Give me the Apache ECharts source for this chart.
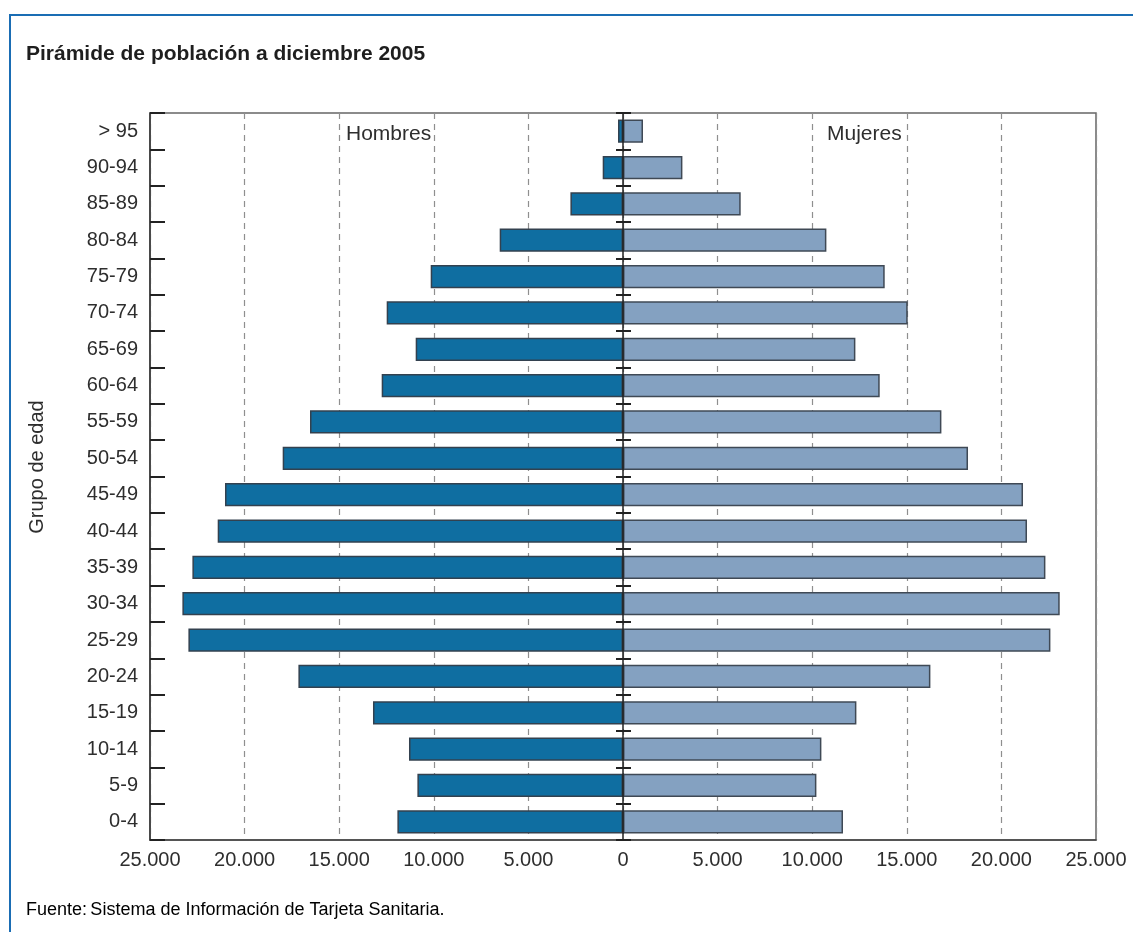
<!DOCTYPE html>
<html>
<head>
<meta charset="utf-8">
<title>Pirámide de población a diciembre 2005</title>
<script src="https://cdn.jsdelivr.net/npm/echarts@6/dist/echarts.min.js"></script>
<style>
  html, body { margin: 0; padding: 0; background: #fff; }
  #main { width: 1133px; height: 932px; }
</style>
</head>
<body>
<div id="main"></div>
<script>
// grupos de edad, de abajo hacia arriba
var gruposEdad = ['0-4', '5-9', '10-14', '15-19', '20-24', '25-29', '30-34', '35-39', '40-44', '45-49',
  '50-54', '55-59', '60-64', '65-69', '70-74', '75-79', '80-84', '85-89', '90-94', '> 95'];
var hombres = [11924, 10867, 11311, 13214, 17156, 22970, 23288, 22759, 21422, 21036,
  17987, 16543, 12754, 10957, 12490, 10164, 6517, 2780, 1073, 264];
var mujeres = [11628, 10222, 10486, 12336, 16247, 22590, 23082, 22326, 21353, 21142,
  18235, 16829, 13568, 12283, 15048, 13832, 10750, 6221, 3140, 1057];
var ejeMin = -25000;
var ejeMax = 25000;
var ejePaso = 5000;

var fuente = '"Liberation Sans", Arial, Helvetica, sans-serif';
var textoColor = '#2e2e2e';
var gridLeft = 150, gridRight = 37;

function formatoMiles(v) {
  var n = Math.abs(v);
  return String(n).replace(/\B(?=(\d{3})+(?!\d))/g, '.');
}

var myChart = echarts.init(document.getElementById('main'));
// distancia del borde izquierdo al 0 del eje
var anchoGrid = 1133 - gridLeft - gridRight;
var offsetCentro = -anchoGrid * (0 - ejeMin) / (ejeMax - ejeMin);

var option = {
  animation: false,
  backgroundColor: '#fff',
  textStyle: { fontFamily: fuente },
  grid: {
    left: gridLeft, right: gridRight, top: 113, bottom: 92,
    show: true,
    borderColor: '#666',
    borderWidth: 1.5
  },
  xAxis: {
    type: 'value',
    min: ejeMin,
    max: ejeMax,
    interval: ejePaso,
    axisLine: { show: true, onZero: false, lineStyle: { color: '#444', width: 1.5 } },
    axisTick: { show: false },
    axisLabel: {
      formatter: formatoMiles,
      fontSize: 20,
      color: textoColor,
      fontFamily: fuente,
      margin: 10
    },
    splitLine: {
      show: true,
      lineStyle: { color: '#8f8f8f', type: [6, 5], width: 1.2 }
    }
  },
  yAxis: [
    {
      type: 'category',
      data: gruposEdad,
      position: 'left',
      axisLine: { show: true, onZero: false, lineStyle: { color: '#333', width: 1.5 } },
      axisTick: { show: true, inside: true, length: 15, lineStyle: { color: '#222', width: 2 } },
      axisLabel: { fontSize: 20, color: textoColor, fontFamily: fuente, margin: 12 },
      splitLine: { show: false }
    },
    {
      // eje central en 0 (trazo y marcas hacia la izquierda)
      type: 'category',
      data: gruposEdad,
      position: 'left',
      z: 5,
      axisLine: { show: true, onZero: true, lineStyle: { color: '#222', width: 1.5 } },
      axisTick: { show: true, inside: false, length: 7, lineStyle: { color: '#222', width: 2 } },
      axisLabel: { show: false },
      splitLine: { show: false }
    },
    {
      // marcas del eje central hacia la derecha
      type: 'category',
      data: gruposEdad,
      position: 'left',
      offset: offsetCentro,
      z: 5,
      axisLine: { show: false, onZero: false },
      axisTick: { show: true, inside: true, length: 8, lineStyle: { color: '#222', width: 2 } },
      axisLabel: { show: false },
      splitLine: { show: false }
    }
  ],
  series: [
    {
      name: 'Hombres',
      type: 'bar',
      yAxisIndex: 0,
      data: hombres.map(function (v) { return -v; }),
      barCategoryGap: '36%',
      barGap: '-100%',
      itemStyle: { color: '#0f6ea1', borderColor: '#33414f', borderWidth: 1.5 }
    },
    {
      name: 'Mujeres',
      type: 'bar',
      yAxisIndex: 0,
      data: mujeres,
      barCategoryGap: '36%',
      barGap: '-100%',
      itemStyle: { color: '#84a1c1', borderColor: '#3f4955', borderWidth: 1.5 }
    }
  ],
  graphic: [
    {
      type: 'polyline',
      shape: { points: [[10, 932], [10, 15], [1133, 15]] },
      style: { stroke: '#1a6db4', lineWidth: 2, fill: null }
    },
    {
      type: 'text',
      left: 26, top: 44,
      style: {
        text: 'Pirámide de población a diciembre 2005',
        font: 'bold 21px ' + fuente,
        fill: '#1e1e1e'
      }
    },
    {
      type: 'text',
      left: 346, top: 124,
      z: 10,
      style: { text: 'Hombres', font: '21px ' + fuente, fill: textoColor }
    },
    {
      type: 'text',
      left: 827, top: 124,
      z: 10,
      style: { text: 'Mujeres', font: '21px ' + fuente, fill: textoColor }
    },
    {
      type: 'text',
      x: 37, y: 467,
      rotation: Math.PI / 2,
      style: {
        text: 'Grupo de edad',
        font: '20px ' + fuente,
        fill: textoColor,
        align: 'center',
        verticalAlign: 'middle'
      }
    },
    {
      type: 'text',
      left: 26, top: 901,
      style: {
        text: '{a|Fuente:} {b|Sistema de Información de Tarjeta Sanitaria.}',
        rich: {
          a: { fontSize: 18, fontFamily: fuente, color: '#1a1a1a' },
          b: { fontSize: 18, fontFamily: fuente, color: '#444' }
        }
      }
    }
  ]
};

option && myChart.setOption(option);
</script>
</body>
</html>
